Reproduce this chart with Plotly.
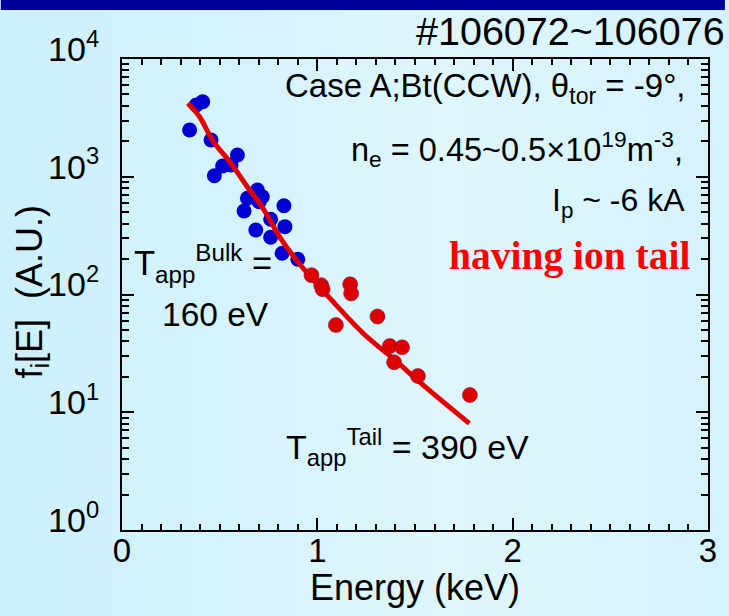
import plotly.graph_objects as go

# Measured ion energy distribution, bulk (blue) and tail (red) channels
blue_E = [0.346, 0.380, 0.413, 0.456, 0.591, 0.515, 0.558, 0.473, 0.693, 0.642,
          0.718, 0.702, 0.625, 0.829, 0.761, 0.685, 0.834, 0.761, 0.820, 0.900]
blue_f = [2495, 4070, 4340, 2050, 1530, 1233, 1259, 1021, 771, 656,
          677, 614, 512, 568, 436, 353, 377, 306, 224, 199]

red_E = [0.970, 1.020, 1.027, 1.168, 1.173, 1.095, 1.308, 1.371, 1.434, 1.393, 1.515, 1.781]
red_f = [146, 120, 111, 122, 102, 55, 65, 36.5, 35.6, 26.6, 20.3, 14.0]

# Two-temperature fit curve
fit_E = [0.337, 0.397, 0.463, 0.564, 0.641, 0.717, 0.812, 0.905, 1.073, 1.244, 1.397, 1.530, 1.778]
fit_f = [4210, 3236, 2050, 1259, 823, 556, 300, 185, 89.7, 45.3, 27.8, 17.7, 8.05]

y_tickvals = [1, 10, 100, 1000, 10000]
y_ticktext = ["10<sup>0</sup>", "10<sup>1</sup>", "10<sup>2</sup>", "10<sup>3</sup>", "10<sup>4</sup>"]
x_tickvals = [0, 1, 2, 3]
x_ticktext = ["0", "1", "2", "3"]

W, H = 729, 616
L, R, T, B = 122, 17, 59, 86
PW, PH = W - L - R, H - T - B

SANS = "Liberation Sans, Arial, sans-serif"
SERIF = "Liberation Serif, Times New Roman, serif"


def px(xp):
    return (xp - L) / PW


def py(yp):
    return (H - B - yp) / PH


fig = go.Figure()

fig.add_trace(go.Scatter(
    x=blue_E, y=blue_f, mode="markers",
    marker=dict(size=15, color="#0000d2", line=dict(width=0)),
    showlegend=False))
fig.add_trace(go.Scatter(
    x=fit_E, y=fit_f, mode="lines", line=dict(color="#e00000", width=5, shape="spline"),
    showlegend=False))
fig.add_trace(go.Scatter(
    x=red_E, y=red_f, mode="markers",
    marker=dict(size=15, color="#dc0000", line=dict(width=0.6, color="#8a1040")),
    showlegend=False))

# background: soft horizontal gradient with a dark band across the top
shapes = []
n = 60
left = (0xcc, 0xf0, 0xfc)
mid = (0xde, 0xf6, 0xfc)
right = (0xd5, 0xf3, 0xfc)
for i in range(n):
    t = (i + 0.5) / n
    if t < 0.62:
        u = t / 0.62
        c = [round(left[k] + (mid[k] - left[k]) * u) for k in range(3)]
    else:
        u = (t - 0.62) / 0.38
        c = [round(mid[k] + (right[k] - mid[k]) * u) for k in range(3)]
    x0 = W * i / n
    x1 = W * (i + 1) / n + 1
    shapes.append(dict(type="rect", xref="paper", yref="paper", layer="below",
                       x0=px(x0), x1=px(x1), y0=py(H), y1=py(0),
                       fillcolor="rgb(%d,%d,%d)" % tuple(c), line=dict(width=0)))
shapes.append(dict(type="rect", xref="paper", yref="paper", layer="below",
                   x0=px(0), x1=px(W), y0=py(10), y1=py(0),
                   fillcolor="#000096", line=dict(width=0)))

annotations = [
    dict(text="#106072~106076", x=px(731), y=py(55), xanchor="right", yanchor="bottom",
         font=dict(size=39.5, family=SANS, color="black")),
    dict(text="Case A;Bt(CCW), θ<sub>tor</sub> = -9°,", x=px(692), y=py(111), xanchor="right", yanchor="bottom",
         font=dict(size=33, family=SANS, color="black")),
    dict(text="n<sub>e</sub> = 0.45~0.5×10<sup>19</sup>m<sup>-3</sup>,", x=px(689), y=py(174), xanchor="right", yanchor="bottom",
         font=dict(size=32.5, family=SANS, color="black")),
    dict(text="I<sub>p</sub> ~ -6 kA", x=px(691), y=py(225), xanchor="right", yanchor="bottom",
         font=dict(size=32, family=SANS, color="black")),
    dict(text="<b>having ion tail</b>", x=px(696), y=py(280), xanchor="right", yanchor="bottom",
         font=dict(size=39.5, family=SERIF, color="#ff0000")),
    dict(text="T<sub>app</sub><sup>Bulk</sup> =", x=px(132), y=py(290), xanchor="left", yanchor="bottom",
         font=dict(size=34.5, family=SANS, color="black")),
    dict(text="160 eV", x=px(160), y=py(335), xanchor="left", yanchor="bottom",
         font=dict(size=33.5, family=SANS, color="black")),
    dict(text="T<sub>app</sub><sup>Tail</sup> = 390 eV", x=px(285), y=py(473), xanchor="left", yanchor="bottom",
         font=dict(size=34, family=SANS, color="black")),
    # axis titles
    dict(text="Energy (keV)", x=px(417), y=py(610), xanchor="center", yanchor="bottom",
         font=dict(size=36, family=SANS, color="black")),
    dict(text="f<sub>i</sub>[E]  (A.U.)", x=px(31), y=py(292), xanchor="center", yanchor="middle",
         textangle=-90, font=dict(size=36, family=SANS, color="black")),
]
for a in annotations:
    a.update(xref="paper", yref="paper", showarrow=False)

axis_common = dict(
    showline=True, linewidth=2, linecolor="black", mirror="allticks",
    ticks="inside", ticklen=12, tickwidth=2, tickcolor="black",
    showgrid=False, zeroline=False,
)

fig.update_layout(
    width=W, height=H,
    margin=dict(l=L, r=R, t=T, b=B),
    paper_bgcolor="#d2f2fc", plot_bgcolor="rgba(0,0,0,0)",
    shapes=shapes, annotations=annotations,
    xaxis=dict(range=[0, 3], tickmode="array", tickvals=x_tickvals, ticktext=x_ticktext,
               tickfont=dict(size=33, family=SANS, color="black"),
               ticklabelstandoff=-10,
               minor=dict(ticks="inside", ticklen=6, tickwidth=1.5, tickcolor="black", dtick=0.1, showgrid=False),
               **axis_common),
    yaxis=dict(type="log", range=[0, 4], tickmode="array", tickvals=y_tickvals, ticktext=y_ticktext,
               tickfont=dict(size=34, family=SANS, color="black"),
               ticklabelstandoff=14, ticklabelshift=-10,
               minor=dict(ticks="inside", ticklen=7, tickwidth=1.5, tickcolor="black", dtick="D1", showgrid=False),
               **axis_common),
    showlegend=False,
)

fig.write_html("out.html")
